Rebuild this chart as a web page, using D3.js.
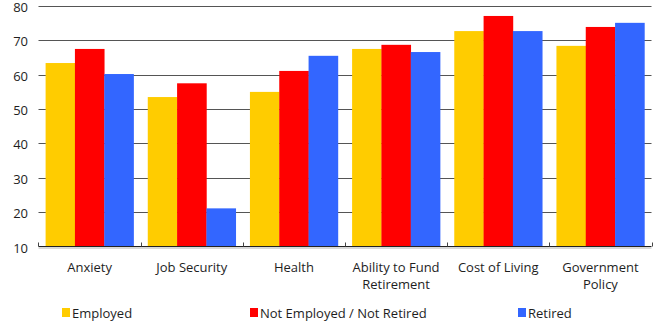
<!DOCTYPE html>
<html><head><meta charset="utf-8">
<script src="https://cdn.jsdelivr.net/npm/d3@7"></script>
<style>
body{margin:0;background:#fff;}
svg text{font-family:"Open Sans","Noto Sans",sans-serif;fill:#1e1e1e;}
</style></head>
<body><svg id="c" width="658" height="322"></svg>
<script>
const categories = [["Anxiety"],["Job Security"],["Health"],["Ability to Fund","Retirement"],["Cost of Living"],["Government","Policy"]];
const seriesNames = ["Employed","Not Employed / Not Retired","Retired"];
const employed = [63.4, 53.5, 55.0, 67.5, 72.7, 68.4];
const notEmployed = [67.5, 57.5, 61.1, 68.7, 77.1, 73.9];
const retired = [60.2, 21.1, 65.5, 66.6, 72.7, 75.1];
const yTicks = [10,20,30,40,50,60,70,80];
const colors = ["#ffcc00","#ff0000","#3366ff"];

(function(){
const series = [employed, notEmployed, retired];
const svg = d3.select("#c");
const pL = 38.5, pR = 651.5, pT = 6, pB = 246.5;
const idx = categories.map((d,i)=>i);
const x0 = d3.scaleBand().domain(idx).range([pL,pR]).paddingInner(0.139).paddingOuter(0.0695);
const x1 = d3.scaleBand().domain([0,1,2]).range([0,x0.bandwidth()]);
const y = d3.scaleLinear().domain([10,80]).range([pB,pT]);

// grid
const g = svg.append("g");
g.selectAll("line.grid").data(yTicks.filter(t=>t>10)).join("line")
 .attr("x1",pL).attr("x2",pR).attr("y1",d=>Math.round(y(d))+0.5).attr("y2",d=>Math.round(y(d))+0.5)
 .attr("stroke","#555").attr("stroke-width",1);
g.selectAll("text.yl").data(yTicks).join("text")
 .attr("x",28).attr("y",d=>y(d)+1.5).attr("dy","0.35em").attr("text-anchor","end")
 .attr("font-size",13).text(d=>d);

// bars
idx.forEach(ci=>{
  series.forEach((s,si)=>{
    svg.append("rect").attr("x",x0(ci)+x1(si)).attr("width",x1.bandwidth()+0.3)
     .attr("y",y(s[ci])).attr("height",y(10)-y(s[ci])).attr("fill",colors[si]);
  });
});

// x axis
const step = x0.step();
svg.append("line").attr("x1",pL).attr("x2",pR).attr("y1",pB+1.5).attr("y2",pB+1.5).attr("stroke","#ccc").attr("stroke-width",1.5);
svg.append("line").attr("x1",pL).attr("x2",pR).attr("y1",pB).attr("y2",pB).attr("stroke","#222").attr("stroke-width",1.2);
const bounds = idx.map(i=>x0(i)-step*0.139/2).concat([pR]);
svg.selectAll("line.xt").data(bounds).join("line")
 .attr("x1",d=>Math.round(d)+0.5).attr("x2",d=>Math.round(d)+0.5).attr("y1",pB-4).attr("y2",pB)
 .attr("stroke","#444");
idx.forEach(ci=>{
  const t = svg.append("text").attr("text-anchor","middle").attr("font-size",13)
   .attr("x",x0(ci)+x0.bandwidth()/2).attr("y",272);
  categories[ci].forEach((ln,li)=>t.append("tspan").attr("x",x0(ci)+x0.bandwidth()/2).attr("y",272+li*17).text(ln));
});

// legend
const legX = [62,250,518];
seriesNames.forEach((n,i)=>{
  svg.append("rect").attr("x",legX[i]).attr("y",308).attr("width",8).attr("height",9).attr("fill",colors[i]);
  svg.append("text").attr("x",legX[i]+10).attr("y",318).attr("font-size",13).text(n);
});
})();
</script></body></html>
